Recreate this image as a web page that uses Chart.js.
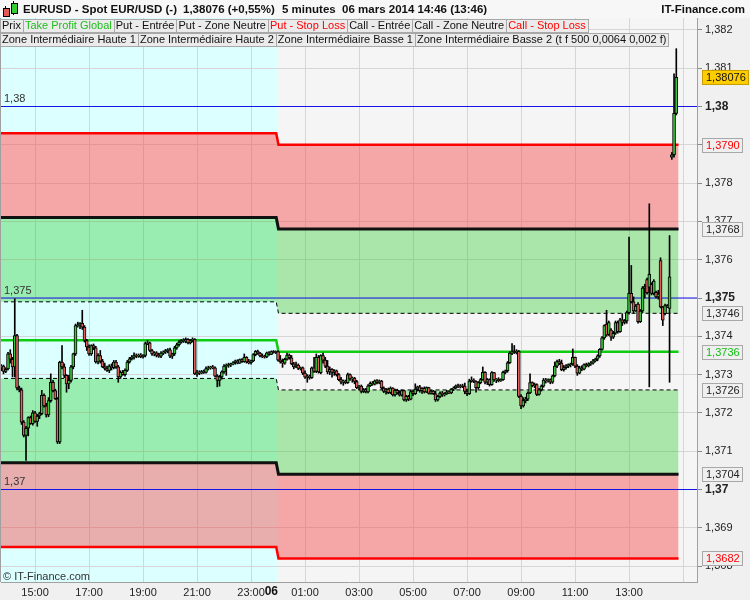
<!DOCTYPE html>
<html>
<head>
<meta charset="utf-8">
<script src="https://cdn.jsdelivr.net/npm/chart.js@4.4.1/dist/chart.umd.min.js"></script>
<style>
  body { margin: 0; background: #f0f0f0; font-family: "Liberation Sans", Arial, sans-serif; }
  #wrap { position: relative; width: 750px; height: 600px; overflow: hidden; }
  #chart { position: absolute; left: 0; top: 0; }
  .head { position: absolute; left: 0; top: 0; width: 750px; height: 18px; background: #f7f7f7; }
  .head span { position: absolute; top: 3px; font-size: 11.5px; font-weight: bold; color: #111; white-space: pre; }
  .icon { position: absolute; background: #000; }
  .row { position: absolute; left: 0; display: flex; }
  .row span { font-size: 11px; line-height: 11px; padding: 0 2px 1px 1px; background: #ebebeb; border: 1px solid #a8a8a8; margin-right: -1px; white-space: nowrap; color: #111; }
  .copy { position: absolute; left: 3px; top: 570px; font-size: 11px; color: #333; }
</style>
</head>
<body>
<div id="wrap">
  <canvas id="chart" width="750" height="600"></canvas>
  <div class="head">
    <div class="icon" style="left:5px;top:6px;width:1px;height:11px"></div>
    <div class="icon" style="left:3px;top:8px;width:5px;height:7px;background:#e05a5a;border:1px solid #000"></div>
    <div class="icon" style="left:13px;top:1px;width:1px;height:14px"></div>
    <div class="icon" style="left:11px;top:3px;width:5px;height:9px;background:#33cc33;border:1px solid #000"></div>
    <span style="left:23px">EURUSD - Spot EUR/USD (-)</span>
    <span style="left:183px">1,38076 (+0,55%)</span>
    <span style="left:282px">5 minutes  06 mars 2014 14:46 (13:46)</span>
    <span style="right:5px">IT-Finance.com</span>
  </div>
  <div class="row" style="top:19px">
    <span>Prix</span>
    <span style="color:#1fbf1f">Take Profit Global</span>
    <span>Put - Entrée</span>
    <span>Put - Zone Neutre</span>
    <span style="color:#ff0000">Put - Stop Loss</span>
    <span>Call - Entrée</span>
    <span>Call - Zone Neutre</span>
    <span style="color:#ff0000">Call - Stop Loss</span>
  </div>
  <div class="row" style="top:33px">
    <span>Zone Intermédiaire Haute 1</span>
    <span>Zone Intermédiaire Haute 2</span>
    <span>Zone Intermédiaire Basse 1</span>
    <span>Zone Intermédiaire Basse 2 (t f 500 0,0064 0,002 f)</span>
  </div>
  <div class="copy">© IT-Finance.com</div>
</div>
<script>
// ===== Data (5 minute candles, 05 mars 13:45 -> 06 mars 14:45) =====
// time in minutes from 05 mars 00:00
const firstBar = 825;
const barMinutes = 5;

const open = [1.37318,1.37322,1.37308,1.37315,1.37354,1.37340,1.37320,1.37402,1.37265,1.37260,
1.37176,1.37141,1.37160,1.37188,1.37172,1.37200,1.37178,1.37192,1.37198,1.37246,
1.37218,1.37195,1.37232,1.37280,1.37258,1.37237,1.37124,1.37333,1.37320,1.37298,
1.37276,1.37285,1.37320,1.37354,1.37428,1.37430,1.37434,1.37424,1.37389,1.37372,
1.37354,1.37376,1.37370,1.37333,1.37350,1.37335,1.37320,1.37316,1.37311,1.37322,
1.37318,1.37333,1.37320,1.37294,1.37306,1.37300,1.37311,1.37333,1.37341,1.37346,
1.37350,1.37348,1.37351,1.37347,1.37350,1.37381,1.37383,1.37363,1.37354,1.37357,
1.37350,1.37348,1.37356,1.37359,1.37363,1.37365,1.37348,1.37354,1.37370,1.37378,
1.37385,1.37389,1.37387,1.37392,1.37383,1.37389,1.37392,1.37302,1.37306,1.37304,
1.37308,1.37306,1.37316,1.37318,1.37320,1.37318,1.37296,1.37285,1.37294,1.37307,
1.37322,1.37324,1.37326,1.37328,1.37331,1.37336,1.37330,1.37339,1.37334,1.37345,
1.37333,1.37331,1.37336,1.37352,1.37361,1.37356,1.37349,1.37347,1.37346,1.37357,
1.37353,1.37360,1.37358,1.37360,1.37338,1.37334,1.37330,1.37340,1.37351,1.37344,
1.37328,1.37320,1.37325,1.37316,1.37318,1.37304,1.37293,1.37296,1.37292,1.37318,
1.37308,1.37345,1.37305,1.37350,1.37338,1.37322,1.37307,1.37314,1.37306,1.37310,
1.37300,1.37287,1.37280,1.37283,1.37279,1.37300,1.37289,1.37291,1.37282,1.37266,
1.37270,1.37256,1.37261,1.37255,1.37271,1.37277,1.37275,1.37284,1.37279,1.37283,
1.37265,1.37256,1.37262,1.37253,1.37265,1.37247,1.37259,1.37252,1.37246,1.37258,
1.37234,1.37243,1.37236,1.37256,1.37250,1.37262,1.37268,1.37258,1.37264,1.37255,
1.37266,1.37251,1.37257,1.37250,1.37234,1.37243,1.37252,1.37247,1.37250,1.37255,
1.37252,1.37262,1.37265,1.37271,1.37268,1.37271,1.37270,1.37256,1.37250,1.37283,
1.37286,1.37282,1.37266,1.37279,1.37287,1.37306,1.37280,1.37287,1.37274,1.37305,
1.37286,1.37288,1.37284,1.37287,1.37306,1.37310,1.37331,1.37356,1.37360,1.37358,
1.37361,1.37243,1.37218,1.37232,1.37236,1.37252,1.37279,1.37271,1.37274,1.37248,
1.37260,1.37270,1.37286,1.37284,1.37287,1.37280,1.37297,1.37322,1.37334,1.37330,
1.37313,1.37318,1.37323,1.37326,1.37328,1.37345,1.37322,1.37304,1.37318,1.37314,
1.37326,1.37323,1.37328,1.37330,1.37336,1.37340,1.37349,1.37366,1.37396,1.37432,
1.37405,1.37416,1.37398,1.37408,1.37436,1.37412,1.37443,1.37436,1.37440,1.37462,
1.37512,1.37490,1.37466,1.37484,1.37438,1.37466,1.37526,1.37548,1.37528,1.37536,
1.37512,1.37515,1.37503,1.37598,1.37476,1.37459,1.37480,1.37473,1.37868,1.37874,
1.37982];

const high = [1.37326,1.37325,1.37318,1.37358,1.37365,1.37345,1.37498,1.37405,1.37270,1.37265,
1.37180,1.37165,1.37190,1.37192,1.37206,1.37204,1.37196,1.37202,1.37259,1.37250,
1.37225,1.37240,1.37302,1.37285,1.37262,1.37240,1.37335,1.37376,1.37328,1.37300,
1.37298,1.37324,1.37356,1.37432,1.37437,1.37436,1.37468,1.37428,1.37392,1.37378,
1.37378,1.37380,1.37374,1.37355,1.37363,1.37340,1.37330,1.37322,1.37326,1.37328,
1.37337,1.37337,1.37324,1.37310,1.37311,1.37315,1.37337,1.37345,1.37350,1.37357,
1.37354,1.37354,1.37355,1.37352,1.37385,1.37389,1.37385,1.37366,1.37360,1.37360,
1.37356,1.37360,1.37362,1.37366,1.37368,1.37369,1.37356,1.37374,1.37382,1.37389,
1.37392,1.37394,1.37396,1.37394,1.37392,1.37396,1.37394,1.37311,1.37310,1.37311,
1.37312,1.37320,1.37322,1.37322,1.37324,1.37320,1.37300,1.37298,1.37310,1.37326,
1.37328,1.37330,1.37330,1.37334,1.37338,1.37339,1.37341,1.37342,1.37354,1.37347,
1.37340,1.37338,1.37355,1.37363,1.37364,1.37358,1.37354,1.37351,1.37359,1.37360,
1.37362,1.37363,1.37362,1.37362,1.37350,1.37341,1.37343,1.37356,1.37354,1.37350,
1.37332,1.37333,1.37328,1.37320,1.37320,1.37310,1.37300,1.37299,1.37320,1.37345,
1.37354,1.37350,1.37352,1.37356,1.37345,1.37337,1.37320,1.37316,1.37313,1.37312,
1.37303,1.37293,1.37286,1.37286,1.37304,1.37302,1.37294,1.37293,1.37285,1.37272,
1.37273,1.37264,1.37264,1.37274,1.37281,1.37282,1.37286,1.37287,1.37286,1.37285,
1.37268,1.37264,1.37265,1.37268,1.37266,1.37262,1.37262,1.37258,1.37260,1.37259,
1.37246,1.37246,1.37259,1.37260,1.37276,1.37270,1.37272,1.37266,1.37268,1.37268,
1.37267,1.37259,1.37259,1.37257,1.37246,1.37255,1.37256,1.37253,1.37259,1.37258,
1.37264,1.37268,1.37273,1.37275,1.37274,1.37275,1.37278,1.37262,1.37288,1.37294,
1.37289,1.37284,1.37282,1.37290,1.37320,1.37308,1.37290,1.37289,1.37308,1.37306,
1.37290,1.37292,1.37289,1.37309,1.37312,1.37334,1.37360,1.37381,1.37376,1.37365,
1.37363,1.37248,1.37240,1.37241,1.37255,1.37302,1.37281,1.37278,1.37276,1.37264,
1.37273,1.37290,1.37290,1.37289,1.37289,1.37299,1.37333,1.37338,1.37340,1.37338,
1.37324,1.37326,1.37328,1.37330,1.37367,1.37346,1.37326,1.37322,1.37323,1.37328,
1.37330,1.37331,1.37334,1.37340,1.37343,1.37352,1.37368,1.37399,1.37430,1.37468,
1.37440,1.37420,1.37413,1.37440,1.37440,1.37447,1.37459,1.37444,1.37466,1.37659,
1.37585,1.37503,1.37483,1.37488,1.37470,1.37530,1.37536,1.37552,1.37746,1.37540,
1.37548,1.37518,1.37520,1.37605,1.37478,1.37484,1.37483,1.37663,1.37880,1.38085,
1.38151];

const low = [1.37310,1.37302,1.37305,1.37312,1.37330,1.37294,1.37294,1.37260,1.37255,1.37170,
1.37137,1.37076,1.37140,1.37170,1.37168,1.37175,1.37165,1.37185,1.37195,1.37215,
1.37189,1.37190,1.37228,1.37255,1.37235,1.37120,1.37120,1.37315,1.37292,1.37254,
1.37263,1.37280,1.37315,1.37350,1.37424,1.37420,1.37418,1.37385,1.37363,1.37350,
1.37350,1.37365,1.37330,1.37328,1.37330,1.37318,1.37312,1.37308,1.37305,1.37312,
1.37315,1.37316,1.37280,1.37290,1.37298,1.37296,1.37308,1.37330,1.37338,1.37340,
1.37344,1.37345,1.37344,1.37343,1.37346,1.37378,1.37360,1.37350,1.37349,1.37346,
1.37345,1.37344,1.37352,1.37355,1.37357,1.37344,1.37342,1.37350,1.37366,1.37374,
1.37382,1.37384,1.37383,1.37380,1.37380,1.37385,1.37300,1.37295,1.37300,1.37302,
1.37303,1.37304,1.37312,1.37314,1.37315,1.37294,1.37268,1.37270,1.37288,1.37303,
1.37298,1.37319,1.37321,1.37325,1.37327,1.37328,1.37329,1.37332,1.37332,1.37330,
1.37328,1.37327,1.37334,1.37349,1.37353,1.37346,1.37344,1.37343,1.37344,1.37350,
1.37352,1.37356,1.37355,1.37335,1.37330,1.37319,1.37327,1.37338,1.37340,1.37326,
1.37315,1.37318,1.37313,1.37312,1.37300,1.37290,1.37280,1.37288,1.37290,1.37306,
1.37305,1.37304,1.37302,1.37330,1.37318,1.37302,1.37300,1.37293,1.37298,1.37296,
1.37284,1.37276,1.37272,1.37276,1.37277,1.37285,1.37280,1.37276,1.37263,1.37260,
1.37252,1.37253,1.37252,1.37252,1.37269,1.37272,1.37273,1.37276,1.37276,1.37262,
1.37253,1.37249,1.37250,1.37250,1.37244,1.37244,1.37249,1.37244,1.37244,1.37231,
1.37230,1.37232,1.37234,1.37245,1.37248,1.37257,1.37254,1.37251,1.37252,1.37253,
1.37249,1.37249,1.37248,1.37230,1.37231,1.37240,1.37243,1.37244,1.37248,1.37250,
1.37250,1.37258,1.37262,1.37266,1.37265,1.37266,1.37250,1.37245,1.37248,1.37280,
1.37279,1.37254,1.37262,1.37276,1.37285,1.37276,1.37274,1.37270,1.37272,1.37282,
1.37279,1.37281,1.37282,1.37285,1.37302,1.37306,1.37329,1.37352,1.37355,1.37354,
1.37240,1.37211,1.37215,1.37226,1.37232,1.37250,1.37268,1.37266,1.37245,1.37246,
1.37257,1.37267,1.37278,1.37280,1.37276,1.37277,1.37294,1.37318,1.37326,1.37310,
1.37309,1.37314,1.37318,1.37320,1.37324,1.37318,1.37298,1.37302,1.37310,1.37312,
1.37320,1.37320,1.37324,1.37327,1.37333,1.37336,1.37345,1.37364,1.37392,1.37400,
1.37402,1.37389,1.37394,1.37405,1.37408,1.37410,1.37428,1.37432,1.37434,1.37458,
1.37487,1.37461,1.37465,1.37434,1.37436,1.37462,1.37500,1.37510,1.37268,1.37508,
1.37508,1.37500,1.37497,1.37474,1.37428,1.37456,1.37475,1.37280,1.37862,1.37868,
1.37978];

const close = [1.37322,1.37308,1.37314,1.37354,1.37340,1.37320,1.37402,1.37265,1.37260,1.37176,
1.37141,1.37160,1.37188,1.37172,1.37200,1.37178,1.37192,1.37198,1.37246,1.37218,
1.37195,1.37232,1.37280,1.37258,1.37237,1.37124,1.37333,1.37320,1.37298,1.37276,
1.37285,1.37320,1.37354,1.37428,1.37430,1.37434,1.37424,1.37389,1.37372,1.37354,
1.37376,1.37370,1.37333,1.37350,1.37335,1.37320,1.37316,1.37311,1.37322,1.37318,
1.37333,1.37320,1.37294,1.37306,1.37300,1.37311,1.37333,1.37341,1.37346,1.37350,
1.37348,1.37351,1.37347,1.37350,1.37381,1.37383,1.37363,1.37354,1.37357,1.37350,
1.37348,1.37356,1.37359,1.37363,1.37365,1.37348,1.37354,1.37370,1.37378,1.37385,
1.37389,1.37387,1.37392,1.37383,1.37389,1.37392,1.37302,1.37306,1.37304,1.37308,
1.37306,1.37316,1.37318,1.37320,1.37318,1.37296,1.37285,1.37294,1.37307,1.37322,
1.37324,1.37326,1.37328,1.37331,1.37336,1.37330,1.37339,1.37334,1.37345,1.37333,
1.37331,1.37336,1.37352,1.37361,1.37356,1.37349,1.37347,1.37346,1.37357,1.37353,
1.37360,1.37358,1.37360,1.37338,1.37334,1.37330,1.37340,1.37351,1.37344,1.37328,
1.37320,1.37325,1.37316,1.37318,1.37304,1.37293,1.37296,1.37292,1.37318,1.37308,
1.37345,1.37307,1.37350,1.37338,1.37322,1.37307,1.37314,1.37306,1.37310,1.37300,
1.37287,1.37280,1.37283,1.37279,1.37300,1.37289,1.37291,1.37282,1.37266,1.37270,
1.37256,1.37261,1.37255,1.37271,1.37277,1.37275,1.37284,1.37279,1.37283,1.37265,
1.37256,1.37262,1.37253,1.37265,1.37247,1.37259,1.37252,1.37246,1.37258,1.37234,
1.37243,1.37236,1.37256,1.37250,1.37262,1.37268,1.37258,1.37264,1.37255,1.37266,
1.37251,1.37257,1.37250,1.37234,1.37243,1.37252,1.37247,1.37250,1.37255,1.37252,
1.37262,1.37265,1.37271,1.37268,1.37271,1.37270,1.37256,1.37250,1.37283,1.37286,
1.37282,1.37266,1.37279,1.37287,1.37306,1.37280,1.37287,1.37274,1.37305,1.37286,
1.37288,1.37284,1.37287,1.37306,1.37310,1.37331,1.37356,1.37360,1.37358,1.37361,
1.37243,1.37218,1.37232,1.37236,1.37252,1.37279,1.37271,1.37274,1.37248,1.37260,
1.37270,1.37286,1.37284,1.37287,1.37280,1.37297,1.37322,1.37334,1.37330,1.37313,
1.37318,1.37323,1.37326,1.37328,1.37345,1.37322,1.37304,1.37318,1.37314,1.37326,
1.37323,1.37328,1.37330,1.37336,1.37340,1.37349,1.37366,1.37396,1.37428,1.37403,
1.37436,1.37398,1.37408,1.37436,1.37412,1.37443,1.37436,1.37440,1.37462,1.37512,
1.37490,1.37466,1.37479,1.37438,1.37466,1.37526,1.37530,1.37514,1.37562,1.37512,
1.37544,1.37503,1.37510,1.37477,1.37442,1.37480,1.37477,1.37555,1.37874,1.37982,
1.38076];

// pivot levels: stop loss, entry, zone, take profit, zone, entry, stop loss
const day1Levels = [1.3793, 1.3771, 1.3749, 1.3739, 1.3729, 1.3707, 1.3685];
const day2Levels = [1.3790, 1.3768, 1.3746, 1.3736, 1.3726, 1.3704, 1.3682];
const roundLevels = [1.38, 1.375, 1.37];
const xTickMinutes = [900, 1020, 1140, 1260, 1380, 1500, 1620, 1740, 1860, 1980, 2100, 2220, 2340];
const midnight = 1440;

// x / y window
const xMin = 824.4, xMax = 2371;
const yMin = 1.367585, yMax = 1.382337;
const bandStart = 800, day1End = 1436, day2Start = 1441, bandEnd = 2330;

const FONT = '"Liberation Sans", Arial, sans-serif';
Chart.defaults.font.family = FONT;

const times = open.map((_, i) => firstBar + i * barMinutes);
const bodyColors = open.map((o, i) => (close[i] >= o ? "#3cc43c" : "#e06060"));

const fmt = (v) => String(Math.round(v * 1000) / 1000).replace(".", ",");
const isRound = (v) => roundLevels.some((r) => Math.abs(r - v) < 1e-7);

// ===== Level lines =====
const levelStyle = [
  { color: "#ff0000", width: 2.5 },
  { color: "#111111", width: 3 },
  { color: "#000000", width: 1, dash: [4, 3] },
  { color: "#10cc10", width: 2.5 },
  { color: "#000000", width: 1, dash: [4, 3] },
  { color: "#111111", width: 3 },
  { color: "#ff0000", width: 2.5 },
];
const RED_FILL = "rgba(247,74,74,0.45)";
const GREEN_FILL = "rgba(31,202,31,0.35)";
const fills = { 0: [3, RED_FILL], 1: [4, GREEN_FILL], 4: [7, GREEN_FILL], 5: [8, RED_FILL] };

const levelSets = day1Levels.map((l1, j) => {
  const st = levelStyle[j];
  const f = fills[j];
  return {
    type: "line",
    data: [
      { x: bandStart, y: l1 },
      { x: day1End, y: l1 },
      { x: day2Start, y: day2Levels[j] },
      { x: bandEnd, y: day2Levels[j] },
    ],
    borderColor: st.color,
    borderWidth: st.width,
    borderDash: st.dash || [],
    pointRadius: 0,
    fill: f ? { target: f[0] } : false,
    backgroundColor: f ? f[1] : "transparent",
    order: 5,
  };
});

const roundSets = roundLevels.map((v) => ({
  type: "line",
  data: [{ x: xMin - 10, y: v }, { x: xMax + 10, y: v }],
  borderColor: "#1414e6",
  borderWidth: 1,
  pointRadius: 0,
  fill: false,
  order: 4,
}));

// ===== Plugins =====
const background = {
  id: "background",
  beforeDraw(chart) {
    const { ctx, chartArea: a, scales } = chart;
    const xm = scales.x.getPixelForValue(midnight);
    // upper stop-loss band of day 1 sits on the plain background
    const yTop = scales.y.getPixelForValue(day1Levels[0]);
    const yBot = scales.y.getPixelForValue(day1Levels[1]);
    ctx.save();
    ctx.fillStyle = "#f5f5f5";
    ctx.fillRect(a.left, a.top, a.right - a.left, a.bottom - a.top);
    ctx.fillStyle = "#dcffff";
    ctx.fillRect(a.left, a.top, xm - a.left, yTop - a.top);
    ctx.fillRect(a.left, yBot, xm - a.left, a.bottom - yBot);
    ctx.restore();
  },
};

const overlay = {
  id: "overlay",
  afterDraw(chart) {
    const { ctx, chartArea: a, scales } = chart;
    const y = scales.y, x = scales.x;
    ctx.save();
    // plot frame left
    ctx.strokeStyle = "#a0a0a0";
    ctx.lineWidth = 1;
    ctx.beginPath();
    ctx.moveTo(a.left - 0.5, a.top);
    ctx.lineTo(a.left - 0.5, a.bottom);
    ctx.stroke();

    // round level labels on the left
    ctx.font = "11px " + FONT;
    ctx.fillStyle = "#333";
    ctx.textAlign = "left";
    ctx.textBaseline = "bottom";
    roundLevels.forEach((v) => ctx.fillText(fmt(v), a.left + 3, y.getPixelForValue(v) - 2));

    // day label
    ctx.font = "bold 12px " + FONT;
    ctx.fillStyle = "#111";
    ctx.textAlign = "right";
    ctx.textBaseline = "middle";
    ctx.fillText("06", x.getPixelForValue(midnight), a.bottom + 10);

    // price boxes on the right axis
    const boxes = day2Levels.map((v, j) => ({
      text: v.toFixed(4).replace(".", ","),
      v,
      color: j === 0 || j === 6 ? "#ff0000" : j === 3 ? "#10c010" : "#222",
      bg: "#efefef",
      border: "#a8a8a8",
    }));
    const last = close[close.length - 1];
    boxes.push({ text: last.toFixed(5).replace(".", ","), v: last, color: "#111", bg: "#ffcc00", border: "#c89e00" });
    ctx.font = "11px " + FONT;
    ctx.textAlign = "left";
    boxes.forEach((b) => {
      const py = Math.round(y.getPixelForValue(b.v));
      const w = Math.ceil(ctx.measureText(b.text).width) + 6;
      ctx.fillStyle = b.bg;
      ctx.fillRect(a.right + 5, py - 7, w, 14);
      ctx.strokeStyle = b.border;
      ctx.strokeRect(a.right + 5.5, py - 6.5, w, 14);
      ctx.fillStyle = b.color;
      ctx.fillText(b.text, a.right + 9, py + 0.5);
    });
    ctx.restore();
  },
};

// ===== Chart =====
new Chart(document.getElementById("chart"), {
  type: "bar",
  data: {
    datasets: [
      {
        label: "Prix",
        data: times.map((t, i) => ({ x: t, y: [open[i], close[i]] })),
        backgroundColor: bodyColors,
        borderColor: "#000",
        borderWidth: 1,
        borderSkipped: false,
        barThickness: 3,
        grouped: false,
        order: 0,
      },
      {
        label: "wick",
        data: times.map((t, i) => ({ x: t, y: [low[i], high[i]] })),
        backgroundColor: "#000",
        borderWidth: 0,
        barThickness: 1,
        grouped: false,
        order: 1,
      },
      ...levelSets,
      ...roundSets,
    ],
  },
  options: {
    responsive: false,
    animation: false,
    events: [],
    layout: { padding: { top: 17, left: 1, right: 0, bottom: 0 } },
    plugins: {
      legend: { display: false },
      tooltip: { enabled: false },
      filler: { drawTime: "beforeDatasetsDraw" },
    },
    scales: {
      x: {
        type: "linear",
        min: xMin,
        max: xMax,
        offset: false,
        afterBuildTicks: (s) => { s.ticks = xTickMinutes.map((v) => ({ value: v })); },
        afterFit: (s) => { s.height = 18; },
        grid: { color: "#d6d6d6", drawTicks: false, offset: false },
        border: { color: "#a0a0a0" },
        ticks: {
          autoSkip: false,
          maxRotation: 0,
          padding: 4,
          color: "#222",
          font: { size: 11 },
          callback: (v) => (v > 2300 ? "" : String(Math.floor(v / 60) % 24).padStart(2, "0") + ":00"),
        },
      },
      y: {
        type: "linear",
        position: "right",
        min: yMin,
        max: yMax,
        afterFit: (s) => { s.width = 53; },
        grid: { color: "#d6d6d6", tickLength: 5, tickColor: "#888" },
        border: { color: "#a0a0a0" },
        ticks: {
          stepSize: 0.001,
          includeBounds: false,
          padding: 3,
          color: "#222",
          font: (c) => (c.tick && isRound(c.tick.value) ? { size: 12, weight: "bold" } : { size: 11 }),
          callback: (v) => fmt(v),
        },
      },
    },
  },
  plugins: [background, overlay],
});
</script>
</body>
</html>
